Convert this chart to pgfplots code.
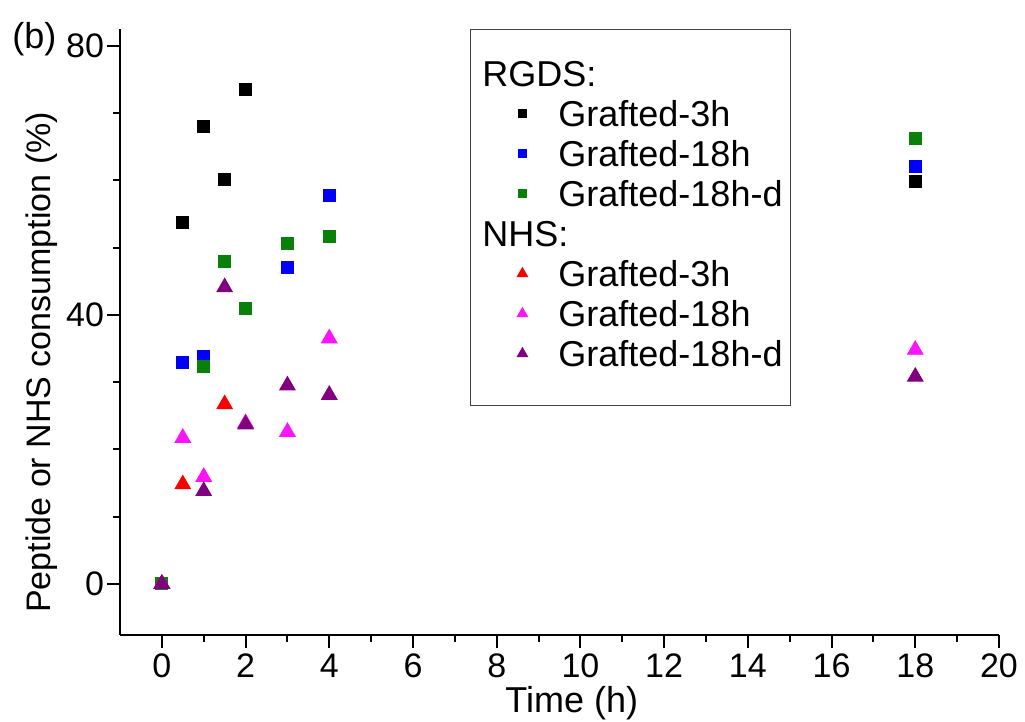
\documentclass[border=0pt]{standalone}
\usepackage{pgfplots}
\pgfplotsset{compat=1.18}
\usepackage{fontspec}
\setmainfont{Liberation Sans}
\definecolor{cgreen}{RGB}{10,128,10}
\definecolor{cmag}{RGB}{250,20,250}
\definecolor{cpurp}{RGB}{128,0,128}
\definecolor{cblue}{RGB}{0,0,250}
\definecolor{cred}{RGB}{250,0,0}
\begin{document}
\begin{tikzpicture}
\useasboundingbox (-60pt,-43.5pt) rectangle (452.5pt,317.5pt);
\begin{axis}[
  at={(0pt,0pt)}, anchor=south west,
  scale only axis, width=439.5pt, height=303pt,
  xmin=-1, xmax=20, ymin=-7.6, ymax=82.5,
  axis x line=bottom, axis y line=left,
  axis line style={-, line width=1pt},
  tick align=outside,
  major tick length=6.5pt, minor tick length=3.5pt,
  every tick/.style={black, line width=1pt},
  xtick={0,2,...,20}, minor x tick num=1,
  ytick={0,40,80}, minor y tick num=3,
  tick label style={font=\fontsize{17}{19}\selectfont},
  xticklabel style={yshift=0.5pt},
  yticklabel style={xshift=2pt},
  /pgf/number format/assume math mode=true,
  xlabel={Time (h)}, ylabel={Peptide or NHS consumption (\%)},
  xlabel style={font=\fontsize{18}{20}\selectfont, at={(axis description cs:0.514,-0.1287)}, anchor=base, inner sep=0pt},
  ylabel style={font=\fontsize{17}{19}\selectfont, at={(axis description cs:-0.0887,0.45)}, anchor=center},
  clip=false,
  only marks,
  legend cell align=left,
  legend style={at={(axis description cs:0.398,1.0)}, anchor=north west,
    draw=black!75, line width=0.6pt, font=\fontsize{18}{20}\selectfont,
    inner xsep=4pt, inner ysep=15.5pt, row sep=3pt, column sep=0pt,
    nodes={inner xsep=0pt, inner ysep=0pt, text height=13pt, text depth=4pt}},
  legend image code/.code={\path[draw=none] (0pt,0pt) -- (40pt,0pt); \draw[#1] plot coordinates {(22pt,2pt)};},
]
\addlegendimage{empty legend}\addlegendentry{\hspace*{-38pt}RGDS:}
\addlegendimage{only marks, mark=square*, mark size=2pt, color=black}\addlegendentry{Grafted-3h}
\addlegendimage{only marks, mark=square*, mark size=2pt, color=cblue}\addlegendentry{Grafted-18h}
\addlegendimage{only marks, mark=square*, mark size=2pt, color=cgreen}\addlegendentry{Grafted-18h-d}
\addlegendimage{empty legend}\addlegendentry{\hspace*{-38pt}NHS:}
\addlegendimage{only marks, mark=triangle*, mark size=2.8pt, color=cred}\addlegendentry{Grafted-3h}
\addlegendimage{only marks, mark=triangle*, mark size=2.8pt, color=cmag}\addlegendentry{Grafted-18h}
\addlegendimage{only marks, mark=triangle*, mark size=2.8pt, color=cpurp}\addlegendentry{Grafted-18h-d}

% RGDS
\addplot[forget plot, mark=square*, mark size=3pt, color=black] coordinates {
  (0,0) (0.5,53.7) (1,68.0) (1.5,60.2) (2,73.5) (18,59.9)};
\addplot[forget plot, mark=square*, mark size=3pt, color=cblue] coordinates {
  (0,0) (0.5,33.0) (1,33.8) (3,47.1) (4,57.8) (18,62.0)};
\addplot[forget plot, mark=square*, mark size=3pt, color=cgreen] coordinates {
  (0,0) (1,32.3) (1.5,48.0) (2,41.0) (3,50.6) (4,51.7) (18,66.3)};
% NHS
\addplot[forget plot, mark=triangle*, mark size=4.5pt, color=cred] coordinates {
  (0,0) (0.5,14.8) (1.5,26.7)};
\addplot[forget plot, mark=triangle*, mark size=4.5pt, color=cmag] coordinates {
  (0,0) (0.5,21.7) (1,15.9) (2,23.9) (3,22.6) (4,36.5) (18,34.8)};
\addplot[forget plot, mark=triangle*, mark size=4.5pt, color=cpurp] coordinates {
  (0,0) (1,13.8) (1.5,44.1) (2,23.7) (3,29.5) (4,28.1) (18,30.8)};

\node[anchor=base west, inner sep=0pt, font=\fontsize{18}{20}\selectfont] at (rel axis cs:-0.1229,0.9686) {(b)};
\end{axis}
\end{tikzpicture}
\end{document}
